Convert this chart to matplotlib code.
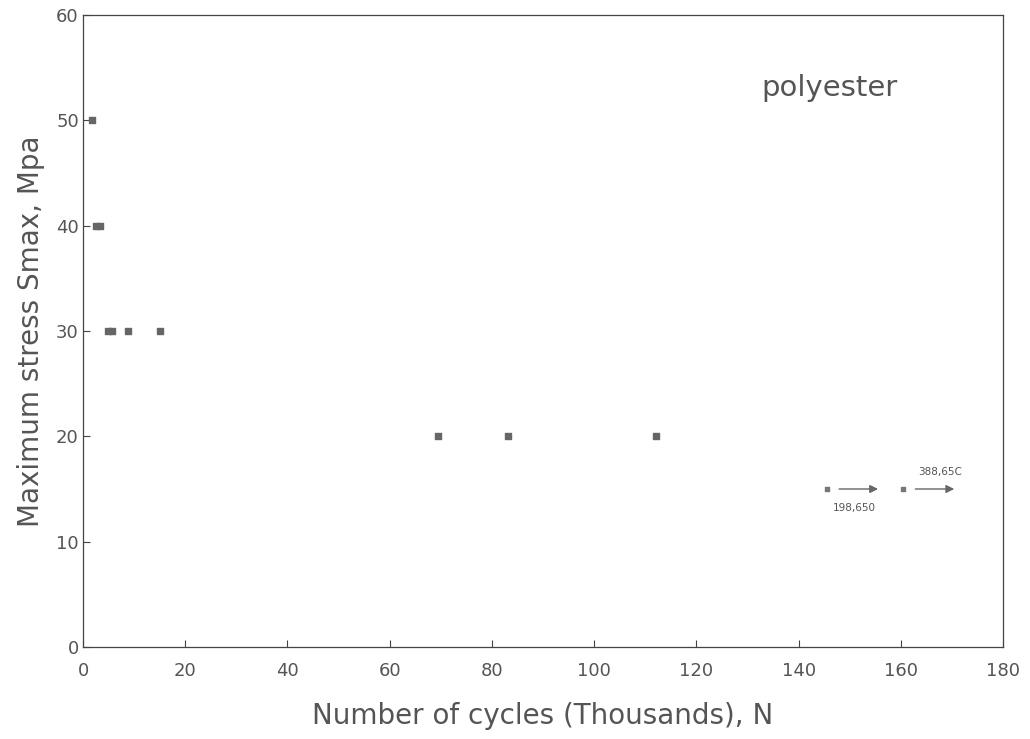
"""S-N fatigue data for polyester, recreated as a scatter chart."""

import matplotlib
matplotlib.use("Agg")
import matplotlib.pyplot as plt

# cycles to failure (thousands) and max stress (MPa)
cycles = [1.8, 2.6, 3.4, 4.9, 5.7, 8.8, 15.1, 69.5, 83.2, 112.1]
stress = [50, 40, 40, 30, 30, 30, 30, 20, 20, 20]

# run-outs (did not fail), shown with arrows
runout_cycles = [145.6, 160.5]
runout_stress = [15, 15]
runout_labels = ["198,650", "388,65C"]

x_ticks = [0, 20, 40, 60, 80, 100, 120, 140, 160, 180]
y_ticks = [0, 10, 20, 30, 40, 50, 60]

TEXT = "#555555"
INK = "#444444"

fig = plt.figure(figsize=(10.3, 7.39), dpi=100)
ax = fig.add_axes([0.0806, 0.1245, 0.8932, 0.8552])

ax.scatter(cycles, stress, marker="s", s=16, color="#666666", zorder=3)
ax.scatter(runout_cycles, runout_stress, marker="s", s=10, color="#777777", zorder=3)

# arrows for the run-out specimens
for x, y in zip(runout_cycles, runout_stress):
    ax.annotate("", xy=(x + 10.5, y), xytext=(x + 1.8, y),
                arrowprops=dict(arrowstyle="-|>", color="#666666", lw=1.0,
                                mutation_scale=12))
ax.text(runout_cycles[0] + 5.3, runout_stress[0] - 1.8, runout_labels[0],
        fontsize=7.5, color=TEXT, ha="center", va="center")
ax.text(runout_cycles[1] + 7.2, runout_stress[1] + 1.6, runout_labels[1],
        fontsize=7.5, color=TEXT, ha="center", va="center")

ax.text(146, 53.1, "polyester", fontsize=21, color=TEXT, ha="center", va="center")

ax.set_xlim(0, 180)
ax.set_ylim(0, 60)
ax.set_xticks(x_ticks)
ax.set_yticks(y_ticks)
ax.tick_params(direction="in", length=5, width=0.8, colors=INK,
               labelcolor=TEXT, labelsize=13)
ax.tick_params(axis="x", pad=11)
ax.tick_params(axis="y", pad=3)
for spine in ax.spines.values():
    spine.set_color(INK)
    spine.set_linewidth(0.9)

ax.set_xlabel("Number of cycles (Thousands), N", fontsize=20, color=TEXT, labelpad=16)
ax.set_ylabel("Maximum stress Smax, Mpa", fontsize=20, color=TEXT, labelpad=8)

fig.savefig("out.png", dpi=100)
